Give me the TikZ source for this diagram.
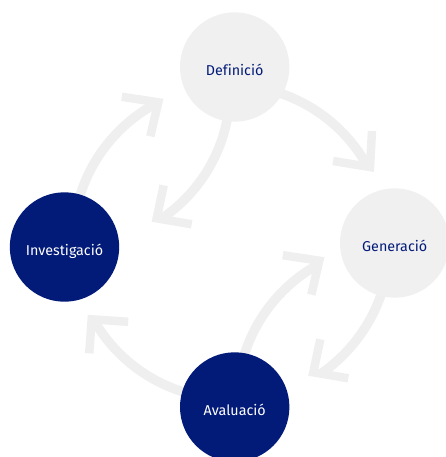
\documentclass[tikz,border=0pt]{standalone}
\usepackage{fontspec}
\setmainfont[Ligatures=NoCommon]{Fira Sans}
\usetikzlibrary{calc}
\definecolor{navy}{HTML}{021A78}
\definecolor{lightfill}{HTML}{F0F0F0}
\definecolor{arrowgray}{HTML}{EFEFEF}
\begin{document}
\begin{tikzpicture}[x=1pt,y=1pt,
  stage/.style={circle, minimum size=109.4pt, inner sep=0pt, text height=17pt, text depth=0pt, font=\fontsize{14.3}{17}\selectfont},
  lightstage/.style={stage, fill=lightfill, text=navy},
  darkstage/.style={stage, fill=navy, text=white},
  shaft/.style={draw=arrowgray, line width=9.5pt},
  head/.style={draw=arrowgray, line width=8.5pt, line join=miter, line cap=butt}]
\useasboundingbox (0,0) rectangle (445,-457);
% arc centres
\coordinate (c0) at (230,-242);
\coordinate (c2) at (75,-90);
\coordinate (c5) at (394,-402);
% arrow tips (chevron corners)
\coordinate (t1) at (370,-167);
\coordinate (t2) at (156.7,-218.3);
\coordinate (t3) at (158.3,-102.3);
\coordinate (t4) at (313.3,-372.3);
\coordinate (t5) at (319.3,-260.7);
\coordinate (t6) at (91.7,-319.3);
% shafts
\draw[shaft] ($(c0)+(80:157)$) arc[start angle=80, end angle=30.2, radius=157];
\draw[shaft] ($(c0)+(170:157)$) arc[start angle=170, end angle=119.2, radius=157];
\draw[shaft] ($(c0)+(-8:160)$) arc[start angle=-8, end angle=-55.4, radius=160];
\draw[shaft] ($(c0)+(262:157)$) arc[start angle=262, end angle=211.2, radius=157];
\draw[shaft] ($(c2)+(0:155)$) arc[start angle=0, end angle=-55.5, radius=155];
\draw[shaft] ($(c5)+(180:157)$) arc[start angle=180, end angle=119.5, radius=157];
% heads
\draw[head] ($(t1)+(-37,6)$) -- (t1) -- ($(t1)+(2,36)$);
\draw[head] ($(t2)+(7,33)$) -- (t2) -- ($(t2)+(35,-6)$);
\draw[head] ($(t3)+(-36.5,5.5)$) -- (t3) -- ($(t3)+(-8,-34)$);
\draw[head] ($(t4)+(7,33)$) -- (t4) -- ($(t4)+(35,-6)$);
\draw[head] ($(t5)+(-36.5,5.5)$) -- (t5) -- ($(t5)+(-8,-34)$);
\draw[head] ($(t6)+(36.5,-2.5)$) -- (t6) -- ($(t6)+(-2.5,-34)$);
% stages
\node[lightstage] (def) at (234.7,-67) {Definició};
\node[lightstage] (gen) at (394.7,-243) {Generació};
\node[darkstage] (inv) at (64.5,-247) {Investigació};
\node[darkstage] (ava) at (234.7,-407) {Avaluació};
\end{tikzpicture}
\end{document}
